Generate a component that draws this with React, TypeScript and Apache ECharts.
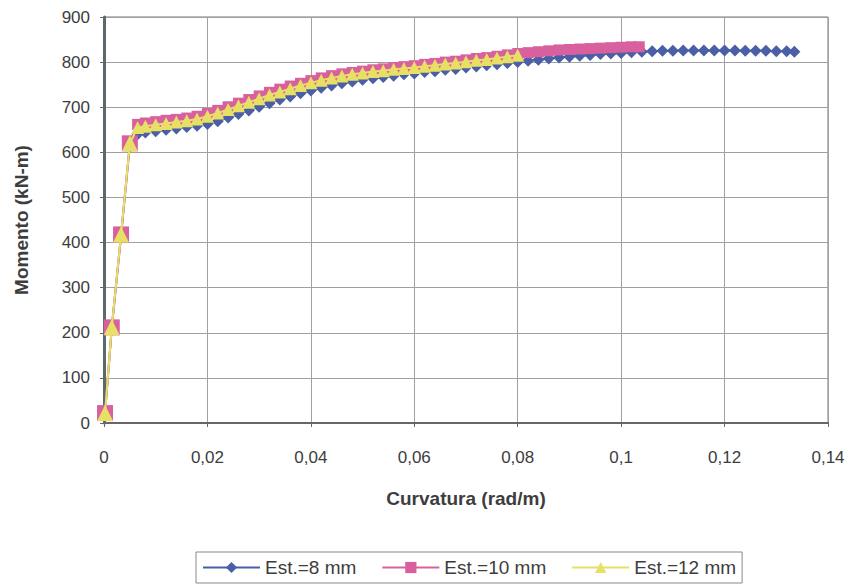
import React, { useEffect, useRef } from "react";
import * as echarts from "echarts";

const startX = [0.0002, 0.0015, 0.0033, 0.005];
const startY8 = [22, 210, 415, 617];
const startY10 = [22, 212, 418, 620];
const startY12 = [22, 212, 418, 620];

const curv8 = [0.0065, 0.008, 0.010, 0.012, 0.014, 0.016, 0.018, 0.020, 0.022, 0.024, 0.026, 0.028, 0.030, 0.032, 0.034, 0.036, 0.038, 0.040, 0.042, 0.044, 0.046, 0.048, 0.050, 0.052, 0.054, 0.056, 0.058, 0.060, 0.062, 0.064, 0.066, 0.068, 0.070, 0.072, 0.074, 0.076, 0.078, 0.080, 0.082, 0.084, 0.086, 0.088, 0.090, 0.092, 0.094, 0.096, 0.098, 0.100, 0.102, 0.104, 0.106, 0.108, 0.110, 0.112, 0.114, 0.116, 0.118, 0.120, 0.122, 0.124, 0.126, 0.128, 0.130, 0.132, 0.1335];
const mom8 = [640, 644, 647, 650, 653, 656, 659, 663, 669, 677, 685, 693, 701, 709, 717, 724, 731, 737, 743, 748, 753, 757, 761, 764, 767, 770, 773, 775, 778, 780, 783, 785, 788, 790, 793, 795, 798, 800, 803, 805, 808, 810, 812, 814, 816, 818, 819, 820, 822, 823, 824, 825, 825, 826, 826, 826, 826, 826, 826, 825, 825, 825, 824, 824, 823];

const curv10 = [0.0065, 0.008, 0.010, 0.012, 0.014, 0.016, 0.018, 0.020, 0.022, 0.024, 0.026, 0.028, 0.030, 0.032, 0.034, 0.036, 0.038, 0.040, 0.042, 0.044, 0.046, 0.048, 0.050, 0.052, 0.054, 0.056, 0.058, 0.060, 0.062, 0.064, 0.066, 0.068, 0.070, 0.072, 0.074, 0.076, 0.078, 0.080, 0.082, 0.084, 0.086, 0.088, 0.090, 0.092, 0.094, 0.096, 0.098, 0.100, 0.102, 0.1035];
const mom10 = [662, 665, 668, 671, 673, 676, 680, 686, 693, 701, 709, 717, 725, 733, 740, 747, 753, 759, 765, 770, 774, 777, 780, 783, 785, 788, 790, 792, 795, 797, 800, 802, 805, 808, 810, 813, 816, 819, 821, 823, 825, 827, 828, 829, 830, 831, 832, 833, 834, 834];

const curv12 = [0.0065, 0.008, 0.010, 0.012, 0.014, 0.016, 0.018, 0.020, 0.022, 0.024, 0.026, 0.028, 0.030, 0.032, 0.034, 0.036, 0.038, 0.040, 0.042, 0.044, 0.046, 0.048, 0.050, 0.052, 0.054, 0.056, 0.058, 0.060, 0.062, 0.064, 0.066, 0.068, 0.070, 0.072, 0.074, 0.076, 0.078, 0.080];
const mom12 = [655, 658, 661, 664, 667, 670, 674, 680, 687, 695, 703, 711, 719, 727, 734, 741, 748, 754, 760, 765, 769, 773, 776, 779, 781, 784, 786, 788, 791, 793, 796, 798, 801, 804, 806, 809, 812, 815];

const seriesNames = ["Est.=8 mm", "Est.=10 mm", "Est.=12 mm"];
const xTicks = [0, 0.02, 0.04, 0.06, 0.08, 0.1, 0.12, 0.14];

const zip = (xs: number[], ys: number[]) => xs.map((x, i) => [x, ys[i]]);

export default function App() {
  const ref = useRef<HTMLDivElement>(null);
  useEffect(() => {
    if (!ref.current) return;
    const chart = echarts.init(ref.current, undefined, { renderer: "svg" });
    const textColor = "#3d3d3d";
    chart.setOption({
      animation: false,
      backgroundColor: "#ffffff",
      textStyle: { fontFamily: "Liberation Sans, Arial, sans-serif" },
      grid: { left: 104, right: 27, top: 17, bottom: 161, show: true, borderColor: "#777", borderWidth: 1 },
      legend: {
        bottom: 1,
        left: 196,
        itemWidth: 57,
        itemHeight: 14,
        itemGap: 25,
        borderColor: "#888",
        borderWidth: 1,
        padding: [6, 6],
        textStyle: { fontSize: 19, color: textColor },
        data: seriesNames,
      },
      xAxis: {
        type: "value",
        min: 0,
        max: 0.14,
        interval: 0.02,
        name: "Curvatura (rad/m)",
        nameLocation: "middle",
        nameGap: 66,
        nameTextStyle: { fontSize: 19, fontWeight: "bold", color: textColor },
        axisLine: { show: true, lineStyle: { color: "#666", width: 2 } },
        axisTick: { show: true, length: 4, lineStyle: { color: "#666" } },
        axisLabel: {
          fontSize: 17,
          color: textColor,
          margin: 26,
          formatter: (v: number) => {
            const t = xTicks.find((k) => Math.abs(k - v) < 1e-9);
            return String(t !== undefined ? t : +v.toFixed(2)).replace(".", ",");
          },
        },
        splitLine: { show: true, lineStyle: { color: "#a0a0a0", width: 1 } },
      },
      yAxis: {
        type: "value",
        min: 0,
        max: 900,
        interval: 100,
        name: "Momento (kN-m)",
        nameLocation: "middle",
        nameGap: 73,
        nameTextStyle: { fontSize: 19, fontWeight: "bold", color: textColor },
        axisLine: { show: true, lineStyle: { color: "#5a6a6a", width: 3 } },
        axisTick: { show: true, length: 4, lineStyle: { color: "#666" } },
        axisLabel: { fontSize: 17, color: textColor, margin: 14 },
        splitLine: { show: true, lineStyle: { color: "#a0a0a0", width: 1 } },
      },
      series: [
        {
          name: seriesNames[0],
          type: "line",
          data: zip(startX.concat(curv8), startY8.concat(mom8)),
          symbol: "diamond",
          symbolSize: (v: number[]) => (v[0] < 0.006 ? 15 : 12),
          itemStyle: { color: "#4a5fa6" },
          lineStyle: { color: "#4a5fa6", width: 2 },
          z: 2,
        },
        {
          name: seriesNames[1],
          type: "line",
          data: zip(startX.concat(curv10), startY10.concat(mom10)),
          symbol: "rect",
          symbolSize: (v: number[]) => (v[0] < 0.006 ? 16 : 11),
          itemStyle: { color: "#d8609f" },
          lineStyle: { color: "#d8609f", width: 2 },
          z: 3,
        },
        {
          name: seriesNames[2],
          type: "line",
          data: zip(startX.concat(curv12), startY12.concat(mom12)),
          symbol: "triangle",
          symbolSize: (v: number[]) => (v[0] < 0.006 ? 16 : 13),
          itemStyle: { color: "#e8e064" },
          lineStyle: { color: "#e8e064", width: 2 },
          z: 4,
        },
      ],
    });
    return () => chart.dispose();
  }, []);
  return <div ref={ref} style={{ width: 855, height: 584, position: "absolute", left: 0, top: 0 }} />;
}
